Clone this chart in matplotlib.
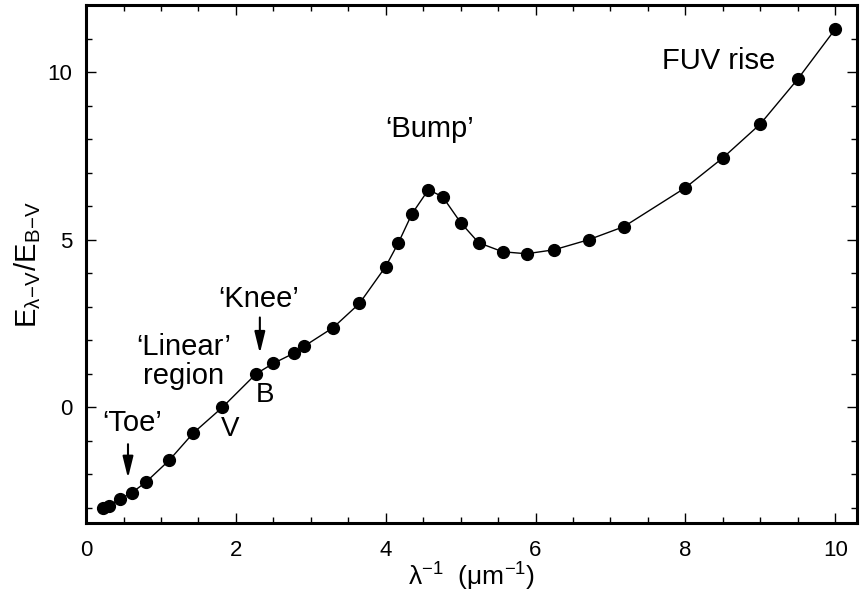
import matplotlib
matplotlib.use("Agg")
import matplotlib.pyplot as plt
from matplotlib.ticker import MultipleLocator

plt.rcParams['font.family'] = ['Liberation Sans', 'DejaVu Sans']
plt.rcParams['mathtext.fontset'] = 'custom'
plt.rcParams['mathtext.rm'] = 'Liberation Sans'
plt.rcParams['mathtext.it'] = 'Liberation Sans'
plt.rcParams['mathtext.default'] = 'regular'

inv_wavelength = [0.22, 0.30, 0.45, 0.61, 0.80, 1.11, 1.43, 1.82, 2.27, 2.50, 2.78, 2.91,
                  3.30, 3.65, 4.00, 4.17, 4.35, 4.57, 4.76, 5.00, 5.24, 5.56, 5.88, 6.25,
                  6.71, 7.18, 8.00, 8.50, 9.00, 9.50, 10.00]
color_excess = [-3.00, -2.93, -2.74, -2.55, -2.23, -1.58, -0.77, 0.00, 1.00, 1.31, 1.62, 1.82,
                2.38, 3.10, 4.20, 4.91, 5.77, 6.49, 6.28, 5.51, 4.91, 4.64, 4.58, 4.70,
                5.00, 5.39, 6.55, 7.44, 8.45, 9.79, 11.28]

fig = plt.figure(figsize=(8.63, 6.01), dpi=100)
ax = fig.add_axes([0.0997, 0.1298, 0.8933, 0.8619])

ax.plot(inv_wavelength, color_excess, '-', color='black', lw=1.0,
        marker='o', markersize=8.5, markerfacecolor='black', markeredgecolor='black')

ax.set_xlim(0, 10.29)
ax.set_ylim(-3.45, 12)
ax.xaxis.set_major_locator(MultipleLocator(2))
ax.xaxis.set_minor_locator(MultipleLocator(0.5))
ax.yaxis.set_major_locator(MultipleLocator(5))
ax.yaxis.set_minor_locator(MultipleLocator(1))
ax.tick_params(which='both', direction='in', top=True, right=True, width=1.0, labelsize=16)
ax.tick_params(which='major', length=7)
ax.tick_params(which='minor', length=4.5)
ax.tick_params(axis='x', which='major', pad=12)
ax.tick_params(axis='y', which='major', pad=10)
for s in ax.spines.values():
    s.set_linewidth(2.2)

ax.set_xlabel(r'$\lambda^{-1}$  ($\mu$m$^{-1}$)', fontsize=19, labelpad=0)
ax.set_ylabel(r'E$_{\lambda\!-\!V}$/E$_{B\!-\!V}$', fontsize=21, labelpad=3)

fs = 21
ax.text(4.59, 8.3, '‘Bump’', fontsize=fs, ha='center', va='center')
ax.text(8.45, 10.33, 'FUV rise', fontsize=fs, ha='center', va='center')
ax.text(2.3, 3.24, '‘Knee’', fontsize=fs, ha='center', va='center')
ax.text(1.3, 1.38, '‘Linear’\nregion', fontsize=fs, ha='center', va='center', linespacing=1.05)
ax.text(0.62, -0.48, '‘Toe’', fontsize=fs, ha='center', va='center')
ax.text(2.39, 0.36, 'B', fontsize=20, ha='center', va='center')
ax.text(1.92, -0.65, 'V', fontsize=20, ha='center', va='center')

arrow = dict(arrowstyle='-|>,head_length=0.65,head_width=0.16', color='black', lw=1.5,
             mutation_scale=20, shrinkA=0, shrinkB=0)
ax.annotate('', xy=(2.32, 1.61), xytext=(2.32, 2.68), arrowprops=arrow)
ax.annotate('', xy=(0.56, -2.11), xytext=(0.56, -1.1), arrowprops=arrow)

fig.savefig('out.png', dpi=100)
